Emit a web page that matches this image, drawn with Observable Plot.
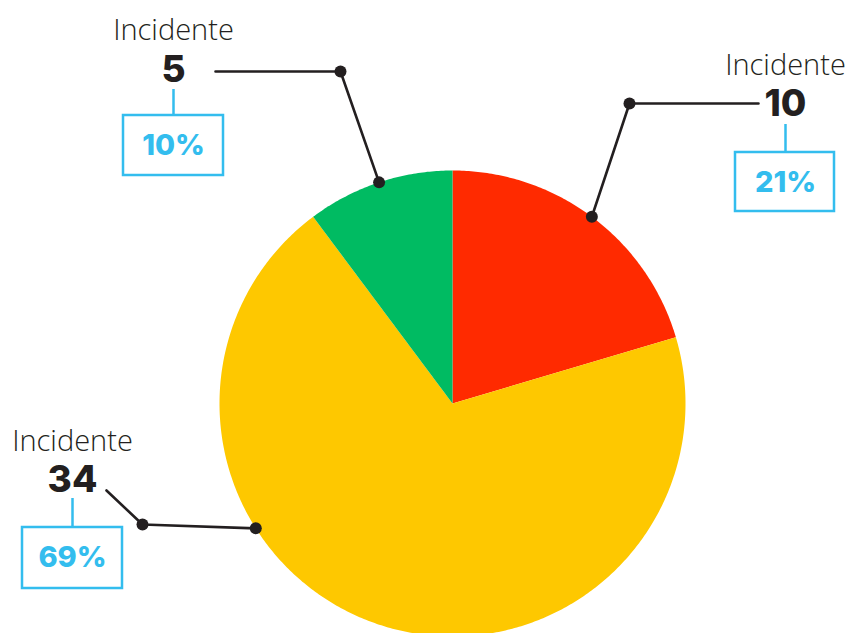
<!DOCTYPE html>
<html>
<head>
<meta charset="utf-8">
<script src="https://cdn.jsdelivr.net/npm/d3@7"></script>
<script src="https://cdn.jsdelivr.net/npm/@observablehq/plot@0.6"></script>
<style>
  html, body { margin: 0; padding: 0; background: #ffffff; }
  #chart svg { display: block; }
</style>
</head>
<body>
<div id="chart"></div>
<script>
// ---- data ----
const categories = ["Incidente", "Incidente", "Incidente"];
const values = [10, 34, 5];
const percents = ["21%", "69%", "10%"];
const colors = ["#ff2a00", "#fec800", "#00bb62"];

// ---- layout (pixels in a 848x633 frame) ----
const W = 848, H = 633;
const cx = 452, cy = 403, R = 233;
const layout = [
  {elbow: [629, 103], end: [758, 103], lx: 785, catY: 65, numY: 104, ruleY: [124, 152], box: [735, 152, 834, 211], pctY: 182, angle: null},
  {elbow: [142, 524], end: [106, 490], lx: 72, catY: 441, numY: 480, ruleY: [498, 527], box: [22, 527, 122, 588], pctY: 557, angle: 237.6},
  {elbow: [340, 71], end: [215, 71], lx: 173, catY: 30, numY: 70, ruleY: [89, 115], box: [123, 115, 223, 175], pctY: 145, angle: null}
];

const arcs = d3.pie().sort(null).value(d => d)(values);

// slice polygons
const slicePts = [];
arcs.forEach((a, i) => {
  slicePts.push({k: i, x: cx, y: cy, c: colors[i]});
  const n = Math.max(2, Math.ceil((a.endAngle - a.startAngle) / 0.01));
  for (let j = 0; j <= n; j++) {
    const t = a.startAngle + (a.endAngle - a.startAngle) * j / n;
    slicePts.push({k: i, x: cx + R * Math.sin(t), y: cy - R * Math.cos(t), c: colors[i]});
  }
});

// leader lines
const leaderPts = [];
const dots = [];
arcs.forEach((a, i) => {
  const L = layout[i];
  const ang = L.angle != null ? L.angle * Math.PI / 180 : (a.startAngle + a.endAngle) / 2;
  const p = [cx + R * Math.sin(ang), cy - R * Math.cos(ang)];
  leaderPts.push({k: i, x: p[0], y: p[1]}, {k: i, x: L.elbow[0], y: L.elbow[1]}, {k: i, x: L.end[0], y: L.end[1]});
  dots.push({x: p[0], y: p[1]}, {x: L.elbow[0], y: L.elbow[1]});
});

const labels = arcs.map((a, i) => ({
  cat: categories[i], num: String(values[i]), pct: percents[i], ...layout[i]
}));

const blue = "#33bdee";
const ink = "#231f20";

const chart = Plot.plot({
  width: W, height: H,
  margin: 0,
  x: {domain: [0, W], range: [0, W], axis: null},
  y: {domain: [0, H], range: [0, H], axis: null},
  color: {type: "identity"},
  marks: [
    Plot.line(slicePts, {x: "x", y: "y", z: "k", fill: "c", stroke: null, curve: "linear-closed"}),
    Plot.line(leaderPts, {x: "x", y: "y", z: "k", stroke: ink, strokeWidth: 2.6}),
    Plot.dot(dots, {x: "x", y: "y", r: 6, fill: ink, stroke: null}),
    Plot.ruleX(labels, {x: "lx", y1: d => d.ruleY[0], y2: d => d.ruleY[1], stroke: blue, strokeWidth: 2.5}),
    Plot.rect(labels, {x1: d => d.box[0], y1: d => d.box[1], x2: d => d.box[2], y2: d => d.box[3], fill: "white", stroke: blue, strokeWidth: 2.5}),
    Plot.text(labels, {x: "lx", y: "catY", text: "cat", fontFamily: "Open Sans", fontWeight: 300, fontSize: 29, fill: "#231f20"}),
    Plot.text(labels, {x: "lx", y: "numY", text: "num", fontFamily: "Inter", fontWeight: 800, fontSize: 37, fill: ink}),
    Plot.text(labels, {x: "lx", y: "pctY", text: "pct", fontFamily: "Inter", fontWeight: 800, fontSize: 29, fill: blue})
  ]
});
document.getElementById("chart").appendChild(chart);
</script>
</body>
</html>
